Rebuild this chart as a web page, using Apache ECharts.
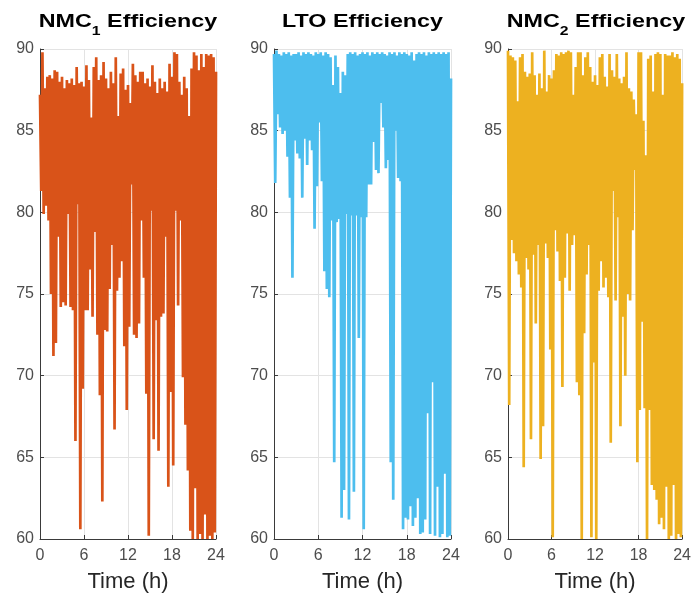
<!DOCTYPE html>
<html>
<head>
<meta charset="utf-8">
<script src="https://cdn.jsdelivr.net/npm/echarts@6/dist/echarts.min.js"></script>
<style>
  html, body { margin: 0; padding: 0; background: #ffffff; }
  #chart { width: 694px; height: 599px; }
</style>
</head>
<body>
<div id="chart"></div>
<script>
// Axis ticks
const timeTicks = [0, 6, 12, 18, 24];          // hours
const effTicks = [60, 65, 70, 75, 80, 85, 90];  // efficiency, %
const samplesPerHour = 6;                       // one sample every 10 minutes

// Round-trip efficiency per 10-minute step, one row per hour
const nmc1Eff = [
  87.2, 81.3, 89.8, 79.9, 87.6, 80.4,
  88.3, 79.5, 88.4, 75.0, 88.2, 71.2,
  88.7, 72.0, 88.6, 78.5, 88.0, 74.2,
  88.3, 74.5, 87.6, 74.3, 88.1, 79.9,
  87.9, 74.2, 88.2, 74.0, 87.8, 66.0,
  88.9, 80.5, 87.9, 60.6, 88.0, 69.2,
  87.7, 74.0, 89.0, 74.0, 88.1, 76.5,
  85.8, 73.6, 88.9, 78.8, 89.5, 72.5,
  88.1, 68.8, 88.4, 62.3, 89.2, 72.8,
  88.2, 72.7, 87.6, 75.3, 88.6, 78.0,
  87.9, 66.7, 89.5, 75.2, 85.9, 76.0,
  88.5, 77.0, 88.8, 71.8, 87.5, 67.9,
  87.8, 73.0, 86.7, 81.7, 89.1, 72.5,
  88.4, 72.3, 88.0, 73.2, 88.6, 79.5,
  88.6, 76.0, 87.9, 68.9, 88.2, 60.2,
  87.7, 80.1, 89.0, 66.1, 88.0, 73.4,
  87.3, 65.4, 88.2, 73.6, 87.6, 73.8,
  88.0, 78.5, 87.4, 63.2, 89.1, 69.0,
  88.3, 64.5, 89.8, 80.1, 89.7, 74.3,
  88.0, 79.5, 87.2, 69.9, 88.3, 67.0,
  87.6, 64.2, 85.9, 60.5, 88.8, 60.0,
  89.8, 63.1, 89.6, 60.0, 88.7, 60.3,
  89.7, 60.0, 88.9, 61.5, 89.7, 60.0,
  89.6, 60.2, 89.7, 60.0, 89.5, 60.4,
  88.6
];

const ltoEff = [
  89.7, 81.8, 89.9, 86.0, 89.7, 85.2,
  89.6, 84.8, 89.8, 85.0, 89.7, 83.4,
  89.8, 80.9, 89.6, 76.0, 89.7, 84.4,
  89.7, 83.6, 89.8, 83.3, 89.6, 80.9,
  89.8, 84.5, 89.7, 82.9, 89.8, 84.4,
  89.7, 83.8, 89.6, 79.0, 89.8, 81.6,
  89.7, 85.5, 89.8, 81.9, 89.6, 76.4,
  89.8, 75.3, 89.7, 74.8, 89.5, 79.5,
  87.8, 64.7, 89.6, 79.4, 88.9, 79.6,
  87.3, 61.3, 88.6, 63.0, 88.4, 79.9,
  89.7, 61.2, 89.8, 79.8, 89.7, 62.9,
  89.8, 79.8, 89.6, 72.3, 89.7, 79.7,
  89.8, 60.6, 89.7, 79.7, 89.8, 81.7,
  89.6, 81.7, 89.8, 84.3, 89.7, 82.6,
  89.8, 82.4, 89.7, 86.7, 89.8, 85.2,
  89.7, 82.7, 89.6, 83.2, 89.8, 64.7,
  89.7, 62.4, 89.8, 85.0, 89.6, 82.1,
  89.8, 81.9, 89.7, 60.6, 89.8, 61.3,
  89.7, 61.2, 89.6, 62.0, 89.8, 60.8,
  89.3, 61.3, 89.7, 62.5, 89.8, 60.3,
  89.7, 60.4, 89.8, 61.2, 89.6, 67.7,
  89.8, 60.3, 89.7, 69.6, 89.8, 60.2,
  89.7, 63.2, 89.8, 60.1, 89.7, 60.3,
  89.8, 64.0, 89.7, 60.1, 89.8, 60.2,
  88.2
];

const nmc2Eff = [
  89.9, 68.2, 89.6, 78.3, 89.5, 77.5,
  89.3, 77.0, 86.8, 76.2, 89.5, 75.4,
  89.7, 64.4, 88.6, 77.2, 88.3, 76.5,
  88.5, 66.1, 89.8, 77.4, 88.4, 73.2,
  87.2, 78.0, 88.5, 64.9, 87.6, 66.9,
  89.9, 78.1, 87.4, 77.2, 88.4, 71.6,
  88.2, 60.1, 88.7, 78.9, 89.7, 77.6,
  89.6, 75.8, 89.8, 69.3, 89.7, 76.0,
  89.8, 78.7, 89.9, 75.2, 89.8, 78.0,
  87.2, 78.6, 88.9, 69.6, 89.8, 68.8,
  89.8, 60.0, 88.4, 72.6, 89.5, 76.2,
  89.8, 78.0, 88.9, 60.1, 88.0, 70.8,
  88.4, 60.0, 87.8, 75.2, 89.5, 77.0,
  89.7, 75.4, 88.3, 76.0, 87.7, 74.8,
  89.7, 65.9, 88.7, 81.3, 88.3, 74.6,
  89.7, 79.7, 88.2, 66.9, 87.9, 73.6,
  88.3, 70.0, 89.8, 75.0, 87.6, 74.6,
  87.4, 78.9, 86.9, 82.6, 86.0, 64.7,
  89.8, 67.9, 89.8, 73.3, 85.6, 68.0,
  83.5, 60.0, 89.4, 67.9, 89.6, 63.3,
  87.4, 63.0, 89.7, 62.4, 89.8, 60.9,
  89.7, 61.3, 87.2, 60.6, 89.7, 63.2,
  89.6, 60.0, 89.6, 60.2, 89.8, 63.3,
  89.5, 60.0, 89.7, 60.3, 89.4, 60.1,
  87.9
];

// Panel descriptions: title parts, data and line colour
const panels = [
  { main: 'NMC', sub: '1', rest: ' Efficiency', values: nmc1Eff, color: '#D95319' },
  { main: 'LTO', sub: '',  rest: ' Efficiency', values: ltoEff,  color: '#4DBEEE' },
  { main: 'NMC', sub: '2', rest: ' Efficiency', values: nmc2Eff, color: '#EDB120' }
];

// Plot area of each panel, in pixels
const plotBoxes = [
  { left: 40,  top: 49, width: 176, height: 490 },
  { left: 274, top: 49, width: 177, height: 490 },
  { left: 508, top: 49, width: 176, height: 490 }
];

const labelFont = 'Liberation Sans, Arial, Helvetica, sans-serif';
const axisColor = '#3a3a3a';
const labelColor = '#4d4d4d';
const gridColor = '#e3e3e3';

const chart = echarts.init(document.getElementById('chart'), null, { renderer: 'canvas' });

const grids = plotBoxes.map(b => ({
  left: b.left, top: b.top, width: b.width, height: b.height, containLabel: false
}));

const xAxes = panels.map((p, i) => ({
  type: 'value',
  gridIndex: i,
  min: timeTicks[0],
  max: timeTicks[timeTicks.length - 1],
  interval: timeTicks[1] - timeTicks[0],
  name: 'Time (h)',
  nameLocation: 'middle',
  nameGap: 32,
  nameTextStyle: { fontFamily: labelFont, fontSize: 22, color: '#262626' },
  axisLine: { show: true, lineStyle: { color: axisColor, width: 1 } },
  axisTick: { show: true, inside: true, length: 4, lineStyle: { color: axisColor } },
  axisLabel: { fontFamily: labelFont, fontSize: 16, color: labelColor, margin: 9 },
  splitLine: { show: true, lineStyle: { color: gridColor, width: 1 } }
}));

const yAxes = panels.map((p, i) => ({
  type: 'value',
  gridIndex: i,
  min: effTicks[0],
  max: effTicks[effTicks.length - 1],
  interval: effTicks[1] - effTicks[0],
  axisLine: { show: true, onZero: false, lineStyle: { color: axisColor, width: 1 } },
  axisTick: { show: true, inside: true, length: 4, lineStyle: { color: axisColor } },
  axisLabel: { fontFamily: labelFont, fontSize: 16, color: labelColor, margin: 6 },
  splitLine: { show: true, lineStyle: { color: gridColor, width: 1 } }
}));

const series = panels.map((p, i) => ({
  type: 'line',
  xAxisIndex: i,
  yAxisIndex: i,
  data: p.values.map((v, k) => [k / samplesPerHour, v]),
  showSymbol: false,
  symbol: 'none',
  lineStyle: { color: p.color, width: 2.7, join: 'bevel' },
  itemStyle: { color: p.color },
  emphasis: { disabled: true },
  silent: true,
  z: 3
}));

// Panel titles (bold, with a subscript cell index)
const titles = panels.map((p, i) => {
  const b = plotBoxes[i];
  const text = p.sub
    ? '{b|' + p.main + '}{s|' + p.sub + '}{b|' + p.rest + '}'
    : '{b|' + p.main + p.rest + '}';
  return {
    type: 'text',
    x: b.left + b.width / 2,
    y: 22,
    scaleX: 1.26,
    silent: true,
    style: {
      text: text,
      align: 'center',
      verticalAlign: 'middle',
      rich: {
        b: { fontFamily: labelFont, fontWeight: 'bold', fontSize: 18.5, fill: '#000000',
             lineHeight: 32, verticalAlign: 'middle' },
        s: { fontFamily: labelFont, fontWeight: 'bold', fontSize: 12.5, fill: '#000000',
             lineHeight: 12, verticalAlign: 'bottom' }
      }
    }
  };
});

chart.setOption({
  animation: false,
  backgroundColor: '#ffffff',
  grid: grids,
  xAxis: xAxes,
  yAxis: yAxes,
  series: series,
  graphic: titles
});
</script>
</body>
</html>
